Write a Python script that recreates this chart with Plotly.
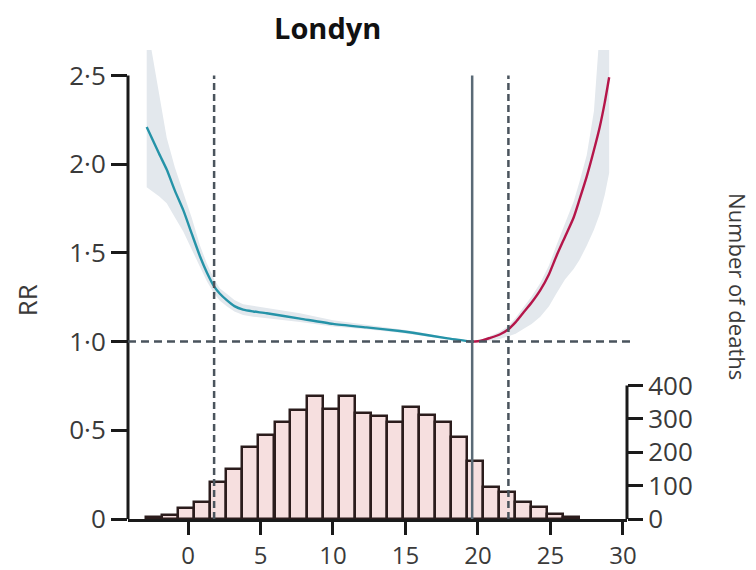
import plotly.graph_objects as go

# ---------------- data ----------------
# temperature-mortality curve (RR), cold side
cold_temp = [-2.85, -2.0, -1.47, -0.9, -0.32, 0.25, 0.83, 1.3, 1.81, 2.2, 2.67, 3.2,
             3.8, 4.5, 5.43, 7.72, 10.0, 12.3, 14.6, 15.5, 17.8, 19.6]
cold_rr = [2.21, 2.06, 1.97, 1.85, 1.74, 1.61, 1.48, 1.39, 1.31, 1.27, 1.234, 1.20,
           1.18, 1.17, 1.16, 1.13, 1.10, 1.08, 1.06, 1.05, 1.02, 1.0]
cold_lo = [1.87, 1.82, 1.78, 1.70, 1.62, 1.52, 1.42, 1.34, 1.27, 1.23, 1.20, 1.17,
           1.15, 1.14, 1.13, 1.11, 1.085, 1.07, 1.05, 1.04, 1.015, 1.0]
cold_hi = [2.80, 2.40, 2.15, 1.98, 1.84, 1.70, 1.54, 1.44, 1.35, 1.30, 1.27, 1.235,
           1.21, 1.20, 1.19, 1.16, 1.12, 1.095, 1.07, 1.06, 1.025, 1.0]

# heat side
heat_temp = [19.6, 20.2, 20.8, 21.5, 22.1, 22.6, 23.1, 23.7, 24.3, 24.9, 25.4, 26.0,
             26.6, 27.0, 27.5, 28.0, 28.4, 28.75, 29.05]
heat_rr = [1.0, 1.005, 1.02, 1.04, 1.07, 1.11, 1.16, 1.22, 1.29, 1.38, 1.48, 1.59,
           1.70, 1.80, 1.93, 2.08, 2.21, 2.35, 2.49]
heat_lo = [1.0, 1.0, 1.005, 1.015, 1.03, 1.045, 1.07, 1.10, 1.14, 1.20, 1.27, 1.35,
           1.41, 1.46, 1.54, 1.63, 1.72, 1.83, 1.95]
heat_hi = [1.0, 1.01, 1.03, 1.055, 1.09, 1.135, 1.19, 1.255, 1.33, 1.43, 1.54, 1.66,
           1.79, 1.90, 2.05, 2.30, 2.75, 3.10, 3.50]

# histogram of deaths by temperature
bin_centers = [-2.33, -1.22, -0.12, 0.99, 2.10, 3.20, 4.31, 5.41, 6.52, 7.62, 8.73,
               9.84, 10.94, 12.05, 13.15, 14.26, 15.37, 16.47, 17.58, 18.68, 19.79,
               20.89, 22.00, 23.10, 24.21, 25.32, 26.42]
deaths = [5, 12, 32, 50, 110, 150, 215, 252, 290, 327, 368, 330, 368, 318, 310, 290,
          337, 312, 290, 245, 174, 97, 82, 50, 35, 15, 7]
bin_width = 1.106

# reference temperatures
mmt = 19.6          # minimum mortality temperature
p_low = 1.8         # lower percentile
p_high = 22.1       # upper percentile
rr_ref = 1.0

rr_ticks = [0, 0.5, 1.0, 1.5, 2.0, 2.5]
rr_tick_text = ["0", "0·5", "1·0", "1·5", "2·0", "2·5"]
death_ticks = [0, 100, 200, 300, 400]
x_ticks = [0, 5, 10, 15, 20, 25, 30]

# ---------------- figure ----------------
FONT = "Open Sans"
TXT = "#3a3a3a"
AX = "#1a1a1a"
BAND = "#e3e8ed"

fig = go.Figure()

fig.add_trace(go.Bar(
    x=bin_centers, y=deaths, width=bin_width, yaxis="y2",
    marker=dict(color="#f6dfdf", line=dict(color="#2b1c1c", width=2.5)),
    showlegend=False, hoverinfo="skip"))

fig.add_trace(go.Scatter(
    x=cold_temp + cold_temp[::-1], y=cold_hi + cold_lo[::-1],
    fill="toself", fillcolor=BAND, line=dict(width=0), mode="lines",
    showlegend=False, hoverinfo="skip"))
fig.add_trace(go.Scatter(
    x=heat_temp + heat_temp[::-1], y=heat_hi + heat_lo[::-1],
    fill="toself", fillcolor=BAND, line=dict(width=0), mode="lines",
    showlegend=False, hoverinfo="skip"))

fig.add_trace(go.Scatter(
    x=cold_temp, y=cold_rr, mode="lines",
    line=dict(color="#2593a8", width=2.4, shape="spline", smoothing=0.6),
    showlegend=False))
fig.add_trace(go.Scatter(
    x=heat_temp, y=heat_rr, mode="lines",
    line=dict(color="#b5164a", width=2.4, shape="spline", smoothing=0.6),
    showlegend=False))

shapes = [
    dict(type="line", xref="x domain", x0=0, x1=0, yref="y", y0=rr_ticks[0], y1=rr_ticks[-1],
         line=dict(color=AX, width=3), layer="above"),
    dict(type="line", xref="x domain", x0=1, x1=1, yref="y2", y0=death_ticks[0], y1=death_ticks[-1],
         line=dict(color=AX, width=3), layer="above"),
    dict(type="line", xref="x domain", x0=0, x1=1.006, yref="y", y0=rr_ref, y1=rr_ref,
         line=dict(color="#4a545d", width=2.5, dash="8px,5px"), layer="above"),
    dict(type="line", xref="x", x0=p_low, x1=p_low, yref="y", y0=0, y1=rr_ticks[-1],
         line=dict(color="#4a545d", width=2.5, dash="7px,4px"), layer="above"),
    dict(type="line", xref="x", x0=p_high, x1=p_high, yref="y", y0=0, y1=rr_ticks[-1],
         line=dict(color="#4a545d", width=2.5, dash="7px,4px"), layer="above"),
    dict(type="line", xref="x", x0=mmt, x1=mmt, yref="y", y0=0, y1=rr_ticks[-1],
         line=dict(color="#5a6a76", width=2.5), layer="above"),
]

annotations = [
    dict(text="<b>Londyn</b>", xref="paper", yref="paper", x=0.399, y=1.047,
         xanchor="center", yanchor="middle", showarrow=False,
         font=dict(family=FONT, size=29, color="#111111")),
    dict(text="RR", xref="paper", yref="paper", x=-0.202, y=0.467, textangle=-90,
         xanchor="center", yanchor="middle", showarrow=False,
         font=dict(family=FONT, size=26, color=TXT)),
    dict(text="Number of deaths", xref="paper", yref="paper", x=1.222, y=0.495, textangle=90,
         xanchor="center", yanchor="middle", showarrow=False,
         font=dict(family=FONT, size=22, color=TXT)),
]

fig.update_layout(
    width=756, height=570,
    margin=dict(l=128, r=129, t=50, b=51, autoexpand=False),
    paper_bgcolor="white", plot_bgcolor="white",
    font=dict(family=FONT, color=TXT),
    bargap=0,
    shapes=shapes, annotations=annotations,
    xaxis=dict(range=[-4.14, 30.28], tickvals=x_ticks, ticks="outside", ticklen=13,
               tickwidth=3, tickcolor=AX, showline=True, linewidth=3, linecolor=AX,
               showgrid=False, zeroline=False, automargin=False,
               tickfont=dict(family=FONT, size=24, color=TXT)),
    yaxis=dict(range=[0, 2.644], tickvals=rr_ticks, ticktext=rr_tick_text, ticks="outside",
               ticklen=16, tickwidth=3, tickcolor=AX, showline=False, showgrid=False,
               zeroline=False, automargin=False,
               tickfont=dict(family=FONT, size=26, color=TXT)),
    yaxis2=dict(range=[0, 1405], overlaying="y", side="right", tickvals=death_ticks,
                ticks="outside", ticklen=15, tickwidth=3, tickcolor=AX, showline=False,
                showgrid=False, zeroline=False, automargin=False,
                tickfont=dict(family=FONT, size=26, color=TXT)),
)

fig.write_html("out.html")
